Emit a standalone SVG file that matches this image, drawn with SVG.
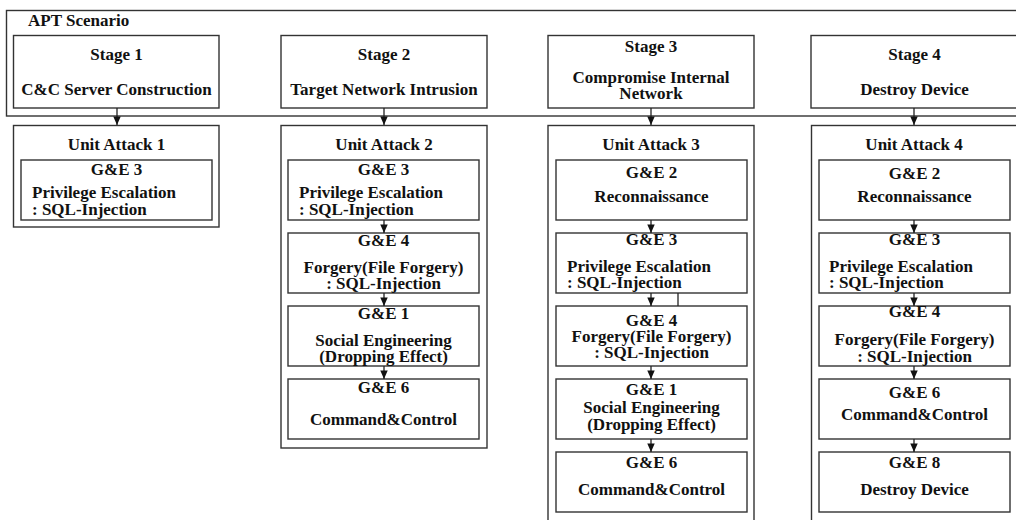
<svg xmlns="http://www.w3.org/2000/svg" width="1016" height="520" viewBox="0 0 1016 520">
<style>
  .box { fill: none; stroke: #333; stroke-width: 1.4; }
  .ln { fill: none; stroke: #222; stroke-width: 1.3; }
  text { font-family: "Liberation Serif", "Times New Roman", serif; font-weight: bold; font-size: 17px; fill: #111; }
  .c { text-anchor: middle; }
  .l { text-anchor: start; }
</style>
<defs>
  <marker id="ah" viewBox="0 0 9 8" refX="9" refY="4" markerWidth="9" markerHeight="7.5" markerUnits="userSpaceOnUse" orient="auto">
    <path d="M0,0 L9,4 L0,8 z" fill="#111"/>
  </marker>
</defs>
<rect width="1016" height="520" fill="#fff"/>

<g id="apt-scenario">
  <rect class="box" x="6.5" y="10.5" width="1020" height="105.5"/>
  <text class="l" x="28" y="26">APT Scenario</text>
</g>

<g id="stage1">
  <rect class="box" x="13.5" y="35.5" width="205.5" height="72.5"/>
  <text class="c" x="116.5" y="60">Stage 1</text>
  <text class="c" x="116.5" y="95">C&amp;C Server Construction</text>
</g>
<g id="stage2">
  <rect class="box" x="281" y="35.5" width="206" height="72.5"/>
  <text class="c" x="384" y="60">Stage 2</text>
  <text class="c" x="384" y="95">Target Network Intrusion</text>
</g>
<g id="stage3">
  <rect class="box" x="548" y="35.5" width="206" height="72.5"/>
  <text class="c" x="651" y="52">Stage 3</text>
  <text class="c" x="651" y="83">Compromise Internal</text>
  <text class="c" x="651" y="99">Network</text>
</g>
<g id="stage4">
  <rect class="box" x="811" y="35.5" width="215" height="72.5"/>
  <text class="c" x="914.5" y="60">Stage 4</text>
  <text class="c" x="914.5" y="95">Destroy Device</text>
</g>

<g id="unit-attack-1">
  <rect class="box" x="13.5" y="125.5" width="205.5" height="101.5"/>
  <text class="c" x="116.5" y="150">Unit Attack 1</text>
</g>
<g id="ua1-ge3">
  <rect class="box" x="21" y="160" width="191" height="60"/>
  <text class="c" x="116.5" y="175">G&amp;E 3</text>
  <text class="l" x="32" y="198">Privilege Escalation</text>
  <text class="l" x="32" y="215">: SQL-Injection</text>
</g>

<g id="unit-attack-2">
  <rect class="box" x="281" y="125.5" width="206" height="322.5"/>
  <text class="c" x="384" y="150">Unit Attack 2</text>
</g>
<g id="ua2-ge3">
  <rect class="box" x="288" y="160" width="191" height="60"/>
  <text class="c" x="383.5" y="175">G&amp;E 3</text>
  <text class="l" x="299" y="198">Privilege Escalation</text>
  <text class="l" x="299" y="215">: SQL-Injection</text>
</g>
<g id="ua2-ge4">
  <rect class="box" x="288" y="233" width="191" height="60"/>
  <text class="c" x="383.5" y="246">G&amp;E 4</text>
  <text class="c" x="383.5" y="273">Forgery(File Forgery)</text>
  <text class="c" x="383.5" y="289">: SQL-Injection</text>
</g>
<g id="ua2-ge1">
  <rect class="box" x="288" y="306" width="191" height="60"/>
  <text class="c" x="383.5" y="319">G&amp;E 1</text>
  <text class="c" x="383.5" y="346">Social Engineering</text>
  <text class="c" x="383.5" y="362">(Dropping Effect)</text>
</g>
<g id="ua2-ge6">
  <rect class="box" x="288" y="379" width="191" height="60"/>
  <text class="c" x="383.5" y="393">G&amp;E 6</text>
  <text class="c" x="383.5" y="425">Command&amp;Control</text>
</g>

<g id="unit-attack-3">
  <rect class="box" x="548" y="125.5" width="206" height="410"/>
  <text class="c" x="651" y="150">Unit Attack 3</text>
</g>
<g id="ua3-ge2">
  <rect class="box" x="556" y="160" width="191" height="60"/>
  <text class="c" x="651.5" y="178">G&amp;E 2</text>
  <text class="c" x="651.5" y="202">Reconnaissance</text>
</g>
<g id="ua3-ge3">
  <rect class="box" x="556" y="233" width="191" height="60"/>
  <text class="c" x="651.5" y="245">G&amp;E 3</text>
  <text class="l" x="567" y="272">Privilege Escalation</text>
  <text class="l" x="567" y="288">: SQL-Injection</text>
</g>
<g id="ua3-ge4">
  <rect class="box" x="556" y="306" width="191" height="60"/>
  <text class="c" x="651.5" y="326">G&amp;E 4</text>
  <text class="c" x="651.5" y="342">Forgery(File Forgery)</text>
  <text class="c" x="651.5" y="358">: SQL-Injection</text>
</g>
<g id="ua3-ge1">
  <rect class="box" x="556" y="379" width="191" height="60"/>
  <text class="c" x="651.5" y="395">G&amp;E 1</text>
  <text class="c" x="651.5" y="413">Social Engineering</text>
  <text class="c" x="651.5" y="430">(Dropping Effect)</text>
</g>
<g id="ua3-ge6">
  <rect class="box" x="556" y="452" width="191" height="60"/>
  <text class="c" x="651.5" y="468">G&amp;E 6</text>
  <text class="c" x="651.5" y="495">Command&amp;Control</text>
</g>

<g id="unit-attack-4">
  <rect class="box" x="811.5" y="125.5" width="215" height="410"/>
  <text class="c" x="914" y="150">Unit Attack 4</text>
</g>
<g id="ua4-ge2">
  <rect class="box" x="819" y="160" width="191" height="60"/>
  <text class="c" x="914.5" y="179">G&amp;E 2</text>
  <text class="c" x="914.5" y="202">Reconnaissance</text>
</g>
<g id="ua4-ge3">
  <rect class="box" x="819" y="233" width="191" height="60"/>
  <text class="c" x="914.5" y="245">G&amp;E 3</text>
  <text class="l" x="829" y="272">Privilege Escalation</text>
  <text class="l" x="829" y="288">: SQL-Injection</text>
</g>
<g id="ua4-ge4">
  <rect class="box" x="819" y="306" width="191" height="60"/>
  <text class="c" x="914.5" y="317">G&amp;E 4</text>
  <text class="c" x="914.5" y="345">Forgery(File Forgery)</text>
  <text class="c" x="914.5" y="362">: SQL-Injection</text>
</g>
<g id="ua4-ge6">
  <rect class="box" x="819" y="379" width="191" height="60"/>
  <text class="c" x="914.5" y="398">G&amp;E 6</text>
  <text class="c" x="914.5" y="420">Command&amp;Control</text>
</g>
<g id="ua4-ge8">
  <rect class="box" x="819" y="452" width="191" height="60"/>
  <text class="c" x="914.5" y="468">G&amp;E 8</text>
  <text class="c" x="914.5" y="495">Destroy Device</text>
</g>

<g id="connectors">
  <line class="ln" x1="117" y1="108" x2="117" y2="125" marker-end="url(#ah)"/>
  <line class="ln" x1="384" y1="108" x2="384" y2="125" marker-end="url(#ah)"/>
  <line class="ln" x1="651" y1="108" x2="651" y2="125" marker-end="url(#ah)"/>
  <line class="ln" x1="914" y1="108" x2="914" y2="125" marker-end="url(#ah)"/>

  <line class="ln" x1="384" y1="220" x2="384" y2="233" marker-end="url(#ah)"/>
  <line class="ln" x1="384" y1="293" x2="384" y2="306" marker-end="url(#ah)"/>
  <line class="ln" x1="384" y1="366" x2="384" y2="379" marker-end="url(#ah)"/>

  <line class="ln" x1="651" y1="220" x2="651" y2="233" marker-end="url(#ah)"/>
  <line class="ln" x1="651" y1="293" x2="651" y2="306" marker-end="url(#ah)"/>
  <line class="ln" x1="651" y1="366" x2="651" y2="379" marker-end="url(#ah)"/>
  <line class="ln" x1="651" y1="439" x2="651" y2="452" marker-end="url(#ah)"/>
  <line class="ln" x1="678" y1="293" x2="678" y2="306"/>

  <line class="ln" x1="914" y1="220" x2="914" y2="233" marker-end="url(#ah)"/>
  <line class="ln" x1="914" y1="293" x2="914" y2="306" marker-end="url(#ah)"/>
  <line class="ln" x1="914" y1="366" x2="914" y2="379" marker-end="url(#ah)"/>
  <line class="ln" x1="914" y1="439" x2="914" y2="452" marker-end="url(#ah)"/>
</g>
</svg>
